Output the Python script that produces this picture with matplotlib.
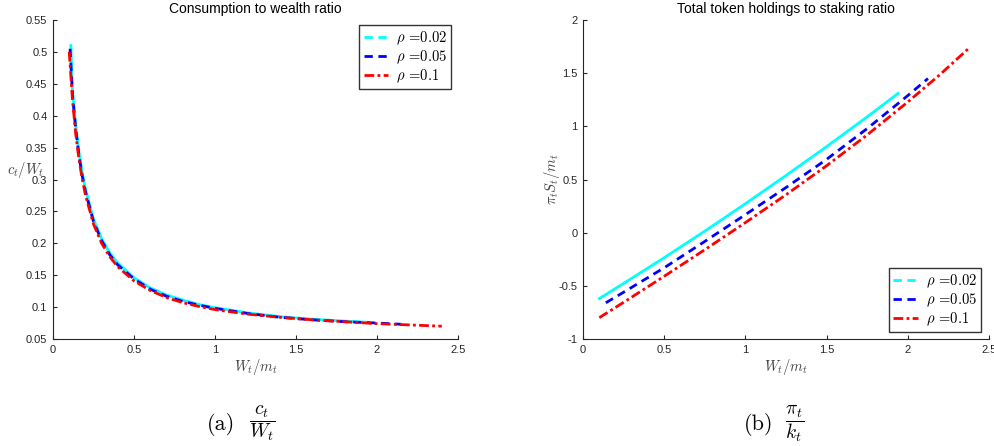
import matplotlib
matplotlib.use("Agg")
import matplotlib.pyplot as plt
from matplotlib.lines import Line2D

plt.rcParams['mathtext.fontset'] = 'cm'
plt.rcParams['font.family'] = ['Liberation Sans', 'DejaVu Sans']

# ---------------- data ----------------
labels = [r"$\rho$ =0.02", r"$\rho$ =0.05", r"$\rho$ =0.1"]
colors = ["#00ffff", "#0000ff", "#ff0000"]

# panel (a): consumption to wealth ratio
xa_cyan = [0.11, 0.12, 0.14, 0.16, 0.18, 0.20, 0.25, 0.30, 0.35, 0.40, 0.50, 0.60, 0.70, 0.80, 0.90, 1.00, 1.20, 1.40, 1.60, 1.80, 1.95]
ya_cyan = [0.510, 0.440, 0.385, 0.343, 0.311, 0.285, 0.238, 0.207, 0.185, 0.169, 0.146, 0.130, 0.119, 0.111, 0.104, 0.099, 0.091, 0.085, 0.081, 0.078, 0.076]
xa_blue = [0.105, 0.12, 0.14, 0.16, 0.18, 0.20, 0.25, 0.30, 0.35, 0.40, 0.50, 0.60, 0.70, 0.80, 0.90, 1.00, 1.20, 1.40, 1.60, 1.80, 2.00, 2.15]
ya_blue = [0.505, 0.433, 0.379, 0.338, 0.306, 0.281, 0.234, 0.204, 0.182, 0.166, 0.144, 0.128, 0.117, 0.109, 0.103, 0.098, 0.090, 0.084, 0.080, 0.077, 0.075, 0.073]
xa_red = [0.10, 0.12, 0.14, 0.16, 0.18, 0.20, 0.25, 0.30, 0.35, 0.40, 0.50, 0.60, 0.70, 0.80, 0.90, 1.00, 1.20, 1.40, 1.60, 1.80, 2.00, 2.20, 2.40]
ya_red = [0.500, 0.425, 0.372, 0.332, 0.301, 0.276, 0.230, 0.200, 0.179, 0.163, 0.141, 0.126, 0.115, 0.107, 0.101, 0.096, 0.089, 0.084, 0.080, 0.077, 0.074, 0.072, 0.070]

# panel (b): total token holdings to staking ratio
xb_cyan = [0.10, 0.25, 0.50, 0.75, 1.00, 1.25, 1.50, 1.75, 1.94]
yb_cyan = [-0.62, -0.477, -0.235, 0.015, 0.273, 0.538, 0.81, 1.09, 1.31]
xb_blue = [0.14, 0.25, 0.50, 0.75, 1.00, 1.25, 1.50, 1.75, 2.00, 2.124]
yb_blue = [-0.66, -0.56, -0.33, -0.082, 0.17, 0.425, 0.69, 0.98, 1.29, 1.45]
xb_red = [0.10, 0.25, 0.50, 0.75, 1.00, 1.25, 1.50, 1.75, 2.00, 2.20, 2.383]
yb_red = [-0.80, -0.655, -0.41, -0.16, 0.095, 0.357, 0.63, 0.92, 1.23, 1.49, 1.745]

xticks = [0, 0.5, 1, 1.5, 2, 2.5]
xticklabels = ["0", "0.5", "1", "1.5", "2", "2.5"]
ya_ticks = [0.05, 0.1, 0.15, 0.2, 0.25, 0.3, 0.35, 0.4, 0.45, 0.5, 0.55]
ya_ticklabels = ["0.05", "0.1", "0.15", "0.2", "0.25", "0.3", "0.35", "0.4", "0.45", "0.5", "0.55"]
yb_ticks = [-1, -0.5, 0, 0.5, 1, 1.5, 2]
yb_ticklabels = ["-1", "-0.5", "0", "0.5", "1", "1.5", "2"]

# ---------------- figure ----------------
fig = plt.figure(figsize=(9.95, 4.46), dpi=100)
axA = fig.add_axes([0.0533, 0.240, 0.407, 0.715])
axB = fig.add_axes([0.586, 0.240, 0.408, 0.715])

lw = 2.0
styles = [dict(linestyle='-'), dict(linestyle=(0, (3.0, 2.0))), dict(linestyle=(0, (3.5, 1.2, 1.0, 1.2)))]
legend_styles = [dict(linestyle=(0, (3.0, 2.0))), dict(linestyle=(0, (3.0, 2.0))), dict(linestyle=(0, (3.5, 1.2, 1.0, 1.2)))]

def style_axes(ax):
    for s in ['top', 'right']:
        ax.spines[s].set_visible(False)
    for s in ['left', 'bottom']:
        ax.spines[s].set_color('#262626')
        ax.spines[s].set_linewidth(0.8)
    ax.tick_params(direction='in', length=3, width=0.8, color='#262626',
                   labelsize=8, labelcolor='#262626', pad=4)
    ax.set_xlim(0, 2.5)
    ax.set_xticks(xticks)
    ax.set_xticklabels(xticklabels)

# panel a
axA.plot(xa_cyan, ya_cyan, color=colors[0], lw=lw, **styles[0])
axA.plot(xa_blue, ya_blue, color=colors[1], lw=lw, **styles[1])
axA.plot(xa_red, ya_red, color=colors[2], lw=lw, **styles[2])
style_axes(axA)
axA.set_ylim(0.05, 0.55)
axA.set_yticks(ya_ticks)
axA.set_yticklabels(ya_ticklabels)
axA.set_title("Consumption to wealth ratio", fontsize=10, pad=5)
axA.set_xlabel(r"$W_t/m_t$", fontsize=10.5, color='#444444', labelpad=2)
axA.set_ylabel(r"$c_t/W_t$", fontsize=10.5, color='#444444', rotation=0, va='center', ha='center')
axA.yaxis.set_label_coords(-0.067, 0.53)

# panel b
axB.plot(xb_cyan, yb_cyan, color=colors[0], lw=lw, **styles[0])
axB.plot(xb_blue, yb_blue, color=colors[1], lw=lw, **styles[1])
axB.plot(xb_red, yb_red, color=colors[2], lw=lw, **styles[2])
style_axes(axB)
axB.set_ylim(-1, 2)
axB.set_yticks(yb_ticks)
axB.set_yticklabels(yb_ticklabels)
axB.set_title("Total token holdings to staking ratio", fontsize=10, pad=5)
axB.set_xlabel(r"$W_t/m_t$", fontsize=10.5, color='#444444', labelpad=2)
axB.set_ylabel(r"$\pi_t S_t/m_t$", fontsize=10.5, color='#444444', va='center', ha='center')
axB.yaxis.set_label_coords(-0.076, 0.5)

handles = [Line2D([], [], color=c, lw=lw, **st) for c, st in zip(colors, legend_styles)]

def add_legend(ax, loc, anchor):
    leg = ax.legend(handles, labels, loc=loc, bbox_to_anchor=anchor,
                    prop={'family': 'cmr10', 'size': 10.5},
                    frameon=True, fancybox=False, framealpha=1, edgecolor='#333333',
                    handlelength=1.7, handletextpad=0.5, labelspacing=0.1,
                    borderpad=0.3, borderaxespad=0.0)
    leg.get_frame().set_linewidth(1.0)
    return leg

add_legend(axA, 'upper right', (0.983, 0.984))
add_legend(axB, 'lower right', (0.980, 0.022))

# captions
fig.text(0.222, 0.049, "(a)", family='cmr10', fontsize=16, ha='center', va='center')
fig.text(0.264, 0.052, r"$\dfrac{c_t}{W_t}$", fontsize=14, ha='center', va='center')
fig.text(0.762, 0.049, "(b)", family='cmr10', fontsize=16, ha='center', va='center')
fig.text(0.799, 0.052, r"$\dfrac{\pi_t}{k_t}$", fontsize=14, ha='center', va='center')

fig.savefig("out.png", dpi=100)
